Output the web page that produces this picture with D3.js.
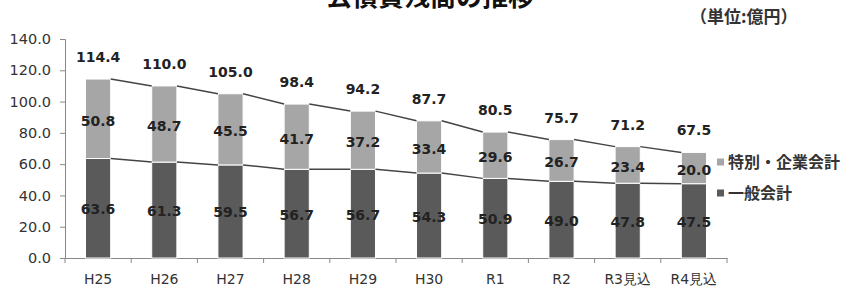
<!DOCTYPE html>
<html><head><meta charset="utf-8">
<script src="https://cdn.jsdelivr.net/npm/d3@7"></script>
<style>body{margin:0;background:#fff;}svg{display:block;}</style>
</head><body>
<script>
const categories = ["H25","H26","H27","H28","H29","H30","R1","R2","R3見込","R4見込"];
const general = [63.6,61.3,59.5,56.7,56.7,54.3,50.9,49.0,47.8,47.5];
const special = [50.8,48.7,45.5,41.7,37.2,33.4,29.6,26.7,23.4,20.0];
const totals = [114.4,110.0,105.0,98.4,94.2,87.7,80.5,75.7,71.2,67.5];
const yTicks = [0,20,40,60,80,100,120,140];
const seriesNames = ["特別・企業会計","一般会計"];
const title = "公債費残高の推移";
const unitLabel = "（単位:億円）";

const W = 859, H = 289;
const svg = d3.select("body").append("svg").attr("width", W).attr("height", H);
const x = d3.scaleBand().domain(categories).range([65, 727]).paddingInner(0.62).paddingOuter(0.31);
const y = d3.scaleLinear().domain([0, 140]).range([258, 39]);
const colLight = "#a6a6a6", colDark = "#5a5a5a";
const numFont = "'DejaVu Sans', sans-serif";
const jpFont = "'Noto Sans CJK JP', sans-serif";

// title (cut off at top, as in the reference)
svg.append("text").attr("x", 430).attr("y", 6).attr("text-anchor", "middle")
  .attr("font-family", jpFont).attr("font-weight", "bold").attr("font-size", 26).attr("fill", "#111").text(title);
svg.append("text").attr("x", 690).attr("y", 23).attr("font-family", jpFont).attr("font-weight", "bold")
  .attr("font-size", 17).attr("fill", "#333").text(unitLabel);

// axes
const yAxis = svg.append("g").attr("transform", "translate(65,0)")
  .call(d3.axisLeft(y).tickValues(yTicks).tickFormat(d3.format(".1f")).tickSizeOuter(0).tickSize(5));
yAxis.select(".domain").attr("stroke", "#888");
yAxis.selectAll(".tick line").attr("stroke", "#888");
yAxis.selectAll(".tick text").attr("font-family", numFont).attr("font-size", 14.5).attr("fill", "#333").attr("x", -14);

const xAxis = svg.append("g").attr("transform", "translate(0,258)")
  .call(d3.axisBottom(x).tickSize(0).tickSizeOuter(0));
xAxis.select(".domain").attr("stroke", "#888");
xAxis.selectAll(".tick text").attr("font-family", numFont).attr("font-size", 14).attr("fill", "#333").attr("y", 16).attr("dy", "0.71em");
// boundary ticks
const step = x.step();
const bounds = d3.range(categories.length + 1).map(i => 65 + i * step);
svg.append("g").selectAll("line").data(bounds).join("line")
  .attr("x1", d => d).attr("x2", d => d).attr("y1", 258).attr("y2", 263).attr("stroke", "#888");

const bw = x.bandwidth();
// bars
const g = svg.append("g");
categories.forEach((c, i) => {
  g.append("rect").attr("x", x(c)).attr("width", bw).attr("y", y(general[i])).attr("height", y(0) - y(general[i]))
    .attr("fill", colDark).attr("stroke", "#fff").attr("stroke-width", 1);
  g.append("rect").attr("x", x(c)).attr("width", bw).attr("y", y(general[i] + special[i]))
    .attr("height", y(general[i]) - y(general[i] + special[i]))
    .attr("fill", colLight).attr("stroke", "#fff").attr("stroke-width", 1);
});
// connector lines
for (let i = 0; i < categories.length - 1; i++) {
  [[general[i], general[i+1]], [general[i]+special[i], general[i+1]+special[i+1]]].forEach(([a, b]) => {
    svg.append("line").attr("x1", x(categories[i]) + bw).attr("y1", y(a))
      .attr("x2", x(categories[i+1])).attr("y2", y(b)).attr("stroke", "#444").attr("stroke-width", 1.5);
  });
}
// labels
const lbl = svg.append("g").attr("font-family", numFont).attr("font-weight", "bold").attr("font-size", 14)
  .attr("fill", "#222").attr("text-anchor", "middle");
categories.forEach((c, i) => {
  const cx = x(c) + bw / 2;
  lbl.append("text").attr("x", cx).attr("y", y(general[i] / 2) + 6).text(general[i].toFixed(1));
  lbl.append("text").attr("x", cx).attr("y", y(general[i] + special[i] / 2) + 7).text(special[i].toFixed(1));
  lbl.append("text").attr("x", cx).attr("y", y(totals[i]) - 17).text(totals[i].toFixed(1));
});

// legend
const leg = svg.append("g");
[[colLight, 162], [colDark, 193]].forEach(([col, cy], k) => {
  leg.append("rect").attr("x", 717).attr("y", cy - 3.5).attr("width", 7).attr("height", 7).attr("fill", col);
  leg.append("text").attr("x", 728).attr("y", cy).attr("dy", "0.36em").attr("font-family", jpFont)
    .attr("font-weight", "bold").attr("font-size", 16).attr("fill", "#333").text(seriesNames[k]);
});
</script>
</body></html>
